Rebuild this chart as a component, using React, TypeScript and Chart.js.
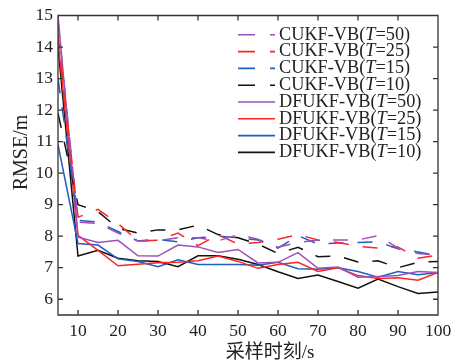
import { useEffect, useRef } from 'react';
import { Chart, registerables } from 'chart.js';

Chart.register(...registerables);

const times = [5, 10, 15, 20, 25, 30, 35, 40, 45, 50, 55, 60, 65, 70, 75, 80, 85, 90, 95, 100];
const xTicks = [10, 20, 30, 40, 50, 60, 70, 80, 90, 100];
const yTicks = [6, 7, 8, 9, 10, 11, 12, 13, 14, 15];

const cukf50 = [14.8, 8.45, 8.4, 8.1, 7.85, 7.85, 7.95, 7.95, 7.85, 8.05, 7.9, 7.65, 7.8, 7.88, 7.88, 7.88, 8.02, 7.62, 7.45, 7.4];
const cukf25 = [14.4, 8.6, 8.85, 8.4, 7.85, 7.87, 8.1, 7.7, 8.05, 7.75, 7.8, 7.9, 8.05, 7.88, 7.8, 7.68, 7.62, 7.66, 7.3, 7.4];
const cukf15 = [13.0, 8.5, 8.45, 8.15, 7.85, 7.9, 7.82, 7.95, 8.0, 7.95, 7.88, 7.62, 8.02, 7.75, 7.78, 7.8, 7.82, 7.6, 7.5, 7.38];
const cukf10 = [11.9, 9.0, 8.78, 8.25, 8.1, 8.2, 8.2, 8.35, 8.05, 7.95, 7.75, 7.45, 7.65, 7.35, 7.37, 7.18, 7.22, 7.0, 7.17, 7.2];
const dfukf50 = [15.0, 7.97, 7.8, 7.87, 7.38, 7.37, 7.72, 7.66, 7.48, 7.58, 7.15, 7.17, 7.48, 6.98, 7.02, 6.7, 6.72, 6.75, 6.88, 6.85];
const dfukf25 = [14.2, 8.03, 7.55, 7.06, 7.11, 7.16, 7.17, 7.22, 7.37, 7.2, 6.98, 7.1, 7.17, 6.88, 7.0, 6.75, 6.66, 6.68, 6.6, 6.85];
const dfukf15 = [10.9, 7.77, 7.72, 7.28, 7.2, 7.03, 7.25, 7.1, 7.1, 7.1, 7.08, 7.17, 6.97, 6.95, 7.0, 6.88, 6.7, 6.88, 6.78, 6.85];
const dfukf10 = [14.0, 7.37, 7.55, 7.3, 7.22, 7.2, 7.03, 7.38, 7.38, 7.27, 7.1, 6.87, 6.66, 6.77, 6.56, 6.35, 6.64, 6.4, 6.18, 6.23];

const seriesLabels = [
  'CUKF-VB(T=50)', 'CUKF-VB(T=25)', 'CUKF-VB(T=15)', 'CUKF-VB(T=10)',
  'DFUKF-VB(T=50)', 'DFUKF-VB(T=25)', 'DFUKF-VB(T=15)', 'DFUKF-VB(T=10)',
];
const seriesValues = [cukf50, cukf25, cukf15, cukf10, dfukf50, dfukf25, dfukf15, dfukf10];
const seriesColors = ['#9E4FB8', '#FF2424', '#1F5FBF', '#111111', '#9E4FB8', '#FF2424', '#1F5FBF', '#111111'];
const seriesDashed = [true, true, true, true, false, false, false, false];

const xTitle = '采样时刻/s';
const yTitle = 'RMSE/m';

const SERIF = '"Liberation Serif", "Times New Roman", serif';

const decorPlugin = {
  id: 'decor',
  afterDatasetsDraw(chart: any) {
    const { ctx, chartArea: a, scales } = chart;
    const xs = scales.x;
    const ys = scales.y;
    ctx.save();
    ctx.strokeStyle = '#333333';
    ctx.lineWidth = 1.3;
    ctx.setLineDash([]);
    ctx.beginPath();
    ctx.rect(a.left, a.top, a.right - a.left, a.bottom - a.top);
    const tl = 5;
    for (const v of xTicks) {
      const px = xs.getPixelForValue(v);
      ctx.moveTo(px, a.bottom);
      ctx.lineTo(px, a.bottom - tl);
      ctx.moveTo(px, a.top);
      ctx.lineTo(px, a.top + tl);
    }
    for (const v of yTicks) {
      const py = ys.getPixelForValue(v);
      ctx.moveTo(a.left, py);
      ctx.lineTo(a.left + tl, py);
      ctx.moveTo(a.right, py);
      ctx.lineTo(a.right - tl, py);
    }
    ctx.stroke();
    ctx.restore();
  },
  afterDraw(chart: any) {
    const { ctx, chartArea: a } = chart;
    ctx.save();
    // legend
    const lineX0 = a.right - 200;
    const lineX1 = a.right - 163;
    const textX = a.right - 159;
    const rowY0 = a.top + 19.3;
    const rowH = 16.8;
    const fontSize = 18.3;
    chart.data.datasets.forEach((ds: any, i: number) => {
      const y = rowY0 + i * rowH;
      ctx.strokeStyle = ds.borderColor;
      ctx.lineWidth = 1.6;
      ctx.setLineDash(ds.borderDash && ds.borderDash.length ? [17, 15] : []);
      ctx.beginPath();
      ctx.moveTo(lineX0, y);
      ctx.lineTo(lineX1, y);
      ctx.stroke();
      ctx.setLineDash([]);
      const label: string = ds.label;
      const m = label.match(/^(.*\()T(=.*)$/);
      ctx.fillStyle = '#222222';
      ctx.textBaseline = 'middle';
      ctx.textAlign = 'left';
      let x = textX;
      if (m) {
        ctx.font = `${fontSize}px ${SERIF}`;
        ctx.fillText(m[1], x, y);
        x += ctx.measureText(m[1]).width;
        ctx.font = `italic ${fontSize}px ${SERIF}`;
        ctx.fillText('T', x, y);
        x += ctx.measureText('T').width;
        ctx.font = `${fontSize}px ${SERIF}`;
        ctx.fillText(m[2], x, y);
      } else {
        ctx.font = `${fontSize}px ${SERIF}`;
        ctx.fillText(label, x, y);
      }
    });
    // axis titles
    ctx.fillStyle = '#222222';
    ctx.textAlign = 'center';
    ctx.textBaseline = 'middle';
    ctx.font = `19px "Liberation Serif", "Noto Sans CJK SC", serif`;
    ctx.fillText(xTitle, a.left + 212, a.bottom + 38);
    ctx.translate(22, a.top + 137);
    ctx.rotate(-Math.PI / 2);
    ctx.font = `20px ${SERIF}`;
    ctx.fillText(yTitle, 0, 0);
    ctx.restore();
  },
};

export default function App() {
  const ref = useRef<HTMLCanvasElement | null>(null);
  useEffect(() => {
    document.body.style.margin = '0';
    const canvas = ref.current;
    if (!canvas) return;
    const datasets = seriesLabels.map((label, i) => ({
      label,
      data: seriesValues[i].map((v, j) => ({ x: times[j], y: v })),
      borderColor: seriesColors[i],
      backgroundColor: seriesColors[i],
      borderWidth: 1.5,
      borderDash: seriesDashed[i] ? [15, 14] : [],
      pointRadius: 0,
      tension: 0,
      fill: false,
    }));
    const chart = new Chart(canvas, {
      type: 'line',
      data: { datasets },
      options: {
        animation: false,
        responsive: false,
        devicePixelRatio: 1,
        layout: { padding: { top: 14, right: 23, left: 0, bottom: 0 } },
        plugins: { legend: { display: false }, tooltip: { enabled: false } },
        scales: {
          x: {
            type: 'linear',
            min: 5,
            max: 100,
            afterBuildTicks: (s: any) => { s.ticks = xTicks.map((v) => ({ value: v })); },
            afterFit: (s: any) => { s.height = 49; },
            grid: { display: false, drawTicks: false },
            border: { display: false },
            ticks: {
              autoSkip: false,
              maxRotation: 0,
              padding: 6,
              color: '#222222',
              font: { family: SERIF, size: 17.5 },
            },
          },
          y: {
            type: 'linear',
            min: 5.5,
            max: 15,
            afterBuildTicks: (s: any) => { s.ticks = yTicks.map((v) => ({ value: v })); },
            afterFit: (s: any) => { s.width = 58; },
            grid: { display: false, drawTicks: false },
            border: { display: false },
            ticks: {
              autoSkip: false,
              padding: 5,
              color: '#222222',
              font: { family: SERIF, size: 17.5 },
            },
          },
        },
      },
      plugins: [decorPlugin],
    });
    return () => chart.destroy();
  }, []);
  return (
    <div style={{ width: 461, height: 364 }}>
      <canvas ref={ref} width={461} height={364} style={{ display: 'block' }} />
    </div>
  );
}
